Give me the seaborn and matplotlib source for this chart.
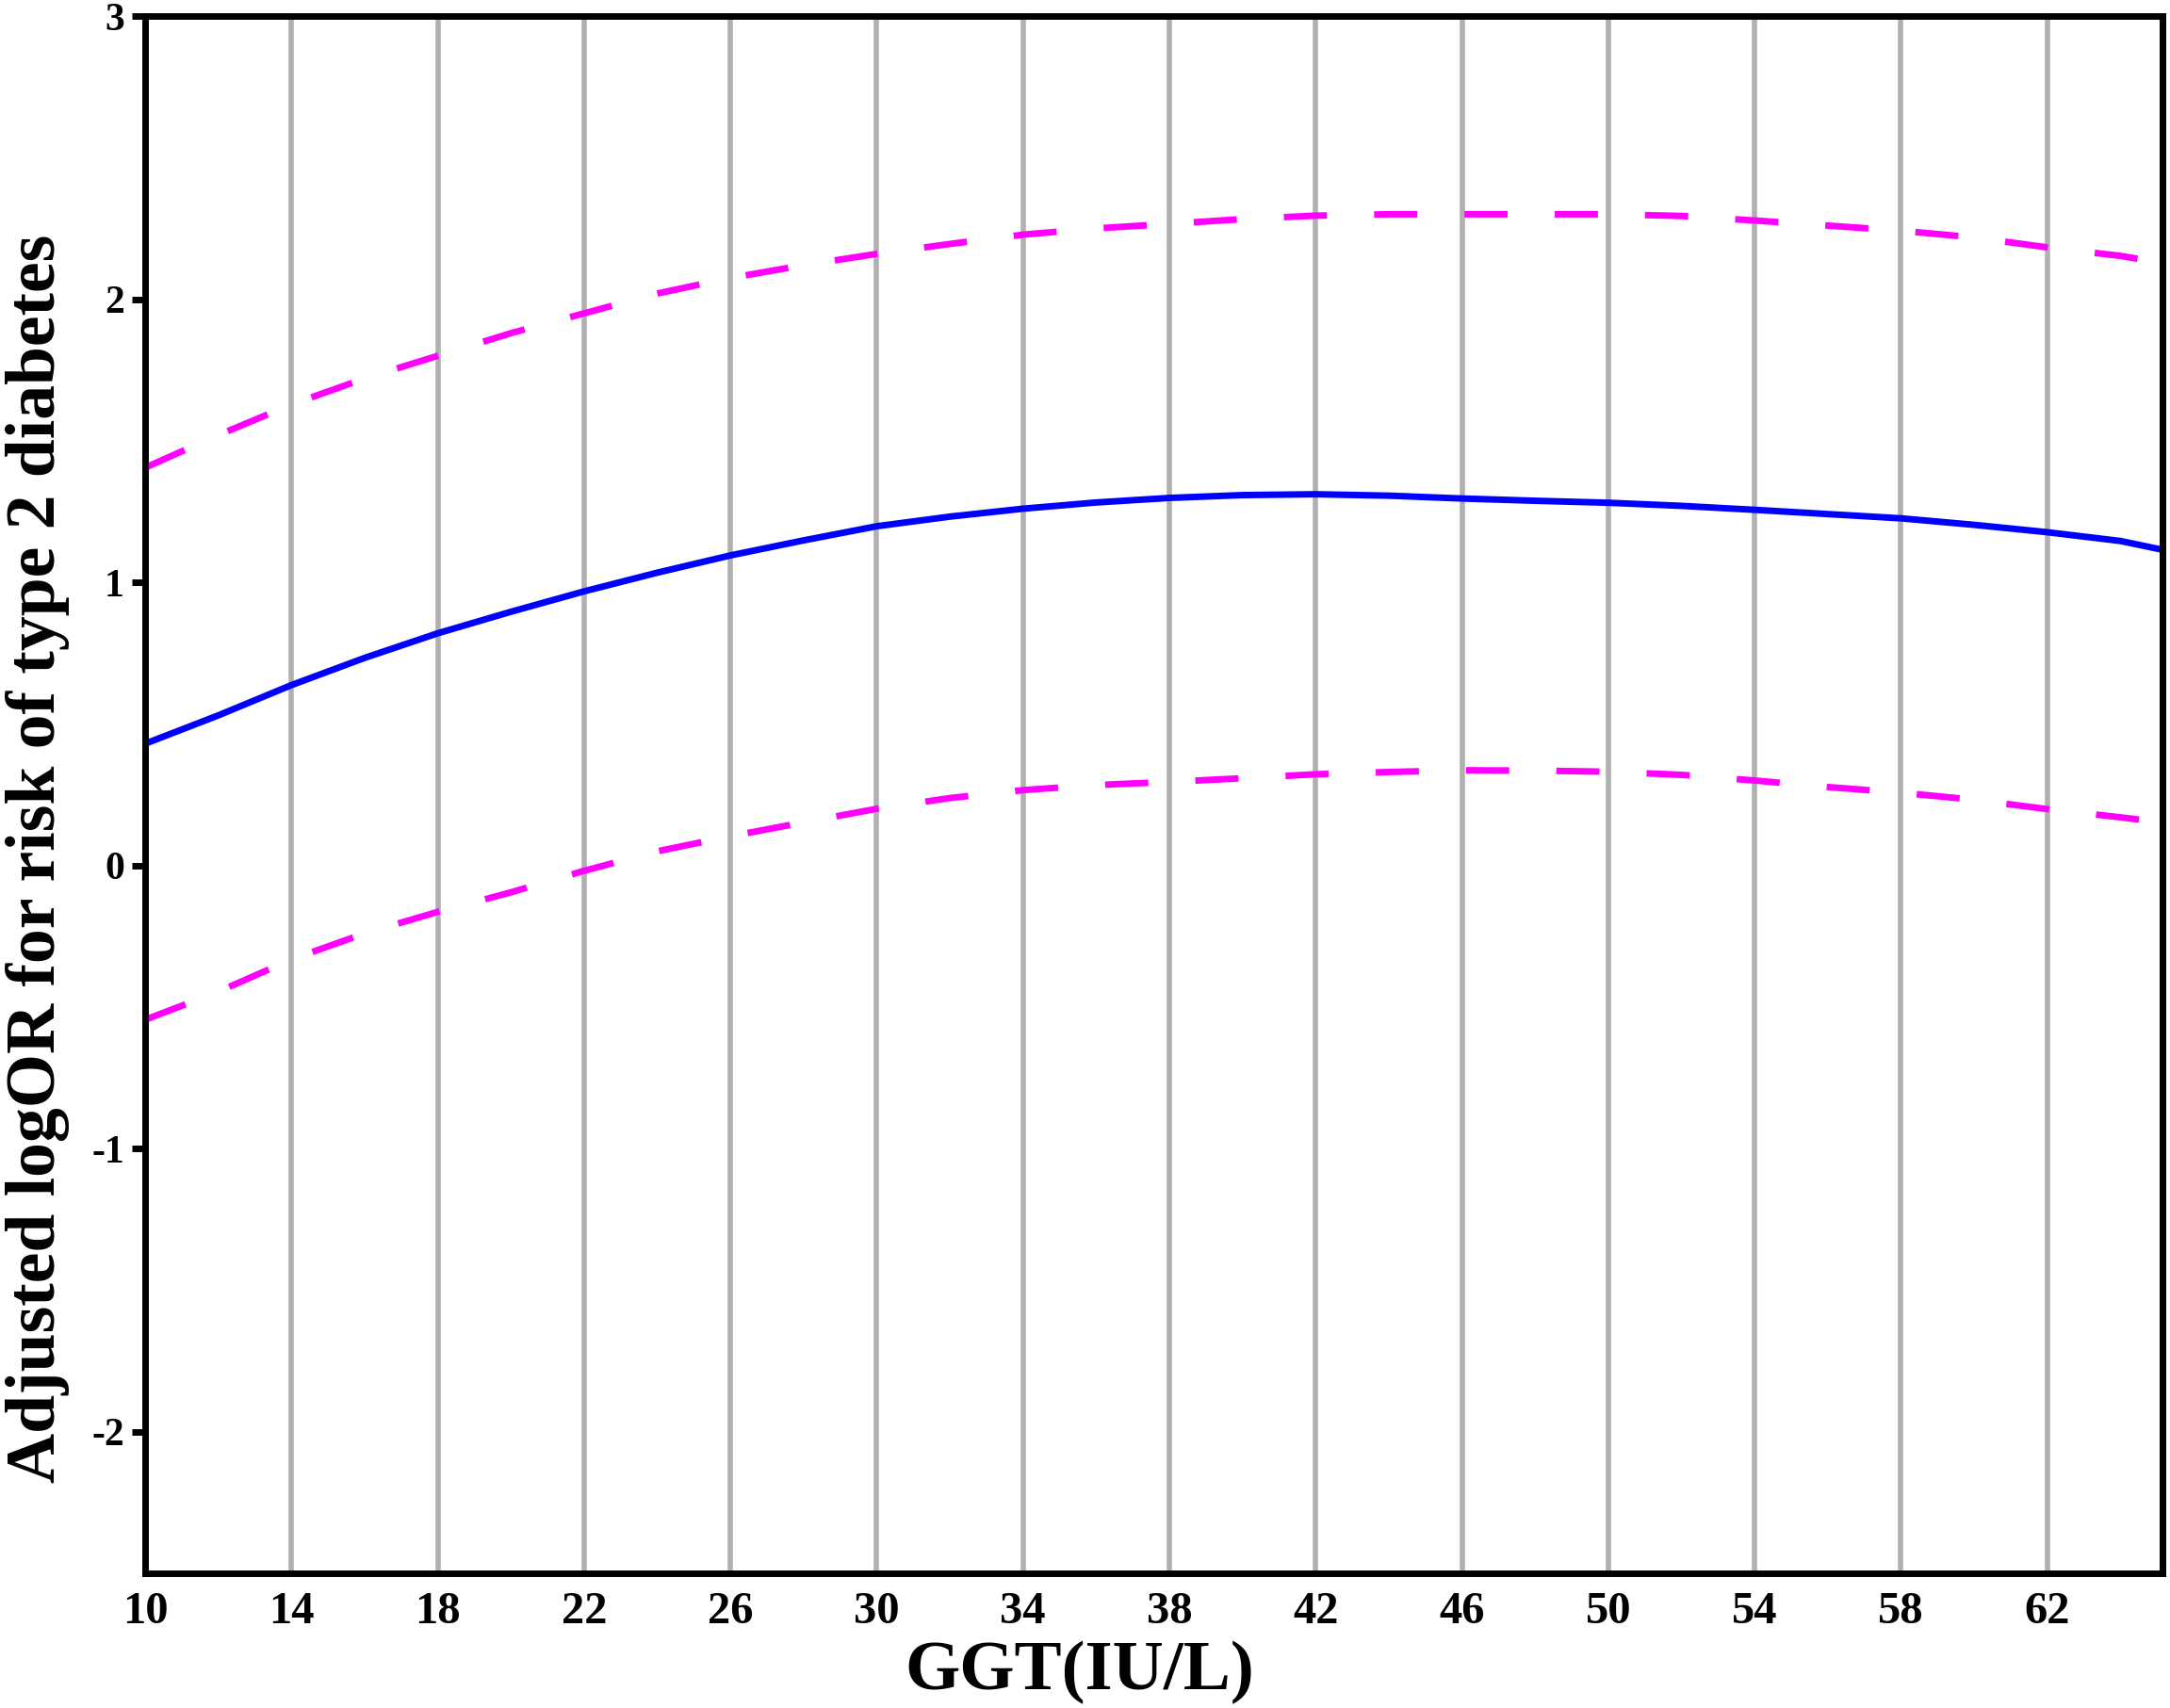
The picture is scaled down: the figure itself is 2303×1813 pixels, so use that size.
import pandas as pd
import numpy as np
import seaborn as sns
import matplotlib.pyplot as plt

# GGT values and spline estimates
ggt = [10, 12, 14, 16, 18, 20, 22, 24, 26, 28, 30, 32, 34, 36, 38, 40, 42, 44, 46, 48,
       50, 52, 54, 56, 58, 60, 62, 64, 65.15]
log_or = [0.43, 0.53, 0.637, 0.733, 0.82, 0.896, 0.968, 1.034, 1.095, 1.148, 1.198, 1.232, 1.26, 1.282,
          1.298, 1.308, 1.311, 1.306, 1.296, 1.288, 1.281, 1.27, 1.256, 1.241, 1.226, 1.203, 1.177,
          1.146, 1.115]
upper_ci = [1.405, 1.52, 1.628, 1.72, 1.80, 1.88, 1.95, 2.02, 2.075, 2.12, 2.16, 2.195, 2.228, 2.25,
            2.266, 2.283, 2.295, 2.30, 2.30, 2.30, 2.30, 2.294, 2.278, 2.26, 2.242, 2.218, 2.183,
            2.153, 2.128]
lower_ci = [-0.545, -0.446, -0.332, -0.24, -0.164, -0.095, -0.019, 0.05, 0.103, 0.152, 0.2, 0.238,
            0.266, 0.284, 0.295, 0.308, 0.322, 0.33, 0.336, 0.335, 0.331, 0.32, 0.3, 0.277, 0.257,
            0.232, 0.199, 0.17, 0.152]

x_ticks = [10, 14, 18, 22, 26, 30, 34, 38, 42, 46, 50, 54, 58, 62]
y_ticks = [-2, -1, 0, 1, 2, 3]

df = pd.DataFrame({"ggt": ggt, "est": log_or, "upper": upper_ci, "lower": lower_ci})

sns.set_style("white")
plt.rcParams["font.family"] = ["Liberation Serif", "DejaVu Serif"]
plt.rcParams["axes.unicode_minus"] = False
plt.rcParams["text.color"] = "black"
plt.rcParams["axes.labelcolor"] = "black"
plt.rcParams["xtick.color"] = "black"
plt.rcParams["ytick.color"] = "black"

fig = plt.figure(figsize=(23.03, 18.13), dpi=100)
ax = fig.add_axes([0.0669, 0.0789, 0.9296, 0.9117])

sns.lineplot(data=df, x="ggt", y="upper", ax=ax, color="#ff00ff", linewidth=5,
             linestyle=(0, (6.6, 7.2)))
sns.lineplot(data=df, x="ggt", y="lower", ax=ax, color="#ff00ff", linewidth=5,
             linestyle=(0, (6.6, 7.2)))
sns.lineplot(data=df, x="ggt", y="est", ax=ax, color="#0000ff", linewidth=5)

ax.set_xlim(10, 65.15)
ax.set_ylim(-2.5, 3)
ax.set_xticks(x_ticks)
ax.set_yticks(y_ticks)
ax.set_xticklabels([str(t) for t in x_ticks], fontsize=35, fontweight="bold")
ax.set_yticklabels([str(t) for t in y_ticks], fontsize=30, fontweight="bold")
ax.tick_params(axis="x", length=0, pad=14)
ax.tick_params(axis="y", length=10, width=5, pad=6, left=True, color="black")

ax.grid(axis="x", color="#b0b0b0", linewidth=4)
ax.grid(axis="y", visible=False)
ax.set_axisbelow(True)

for s in ax.spines.values():
    s.set_linewidth(5)
    s.set_color("black")

ax.set_xlabel("GGT(IU/L)", fontsize=54, fontweight="bold")
ax.xaxis.set_label_coords(0.463, -0.043)
ax.xaxis.label.set_va("top")
ax.set_ylabel("Adjusted logOR for risk of type 2 diabetes", fontsize=53, fontweight="bold")
ax.yaxis.set_label_coords(-0.0375, 0.459)

fig.savefig("out.png", dpi=100)
